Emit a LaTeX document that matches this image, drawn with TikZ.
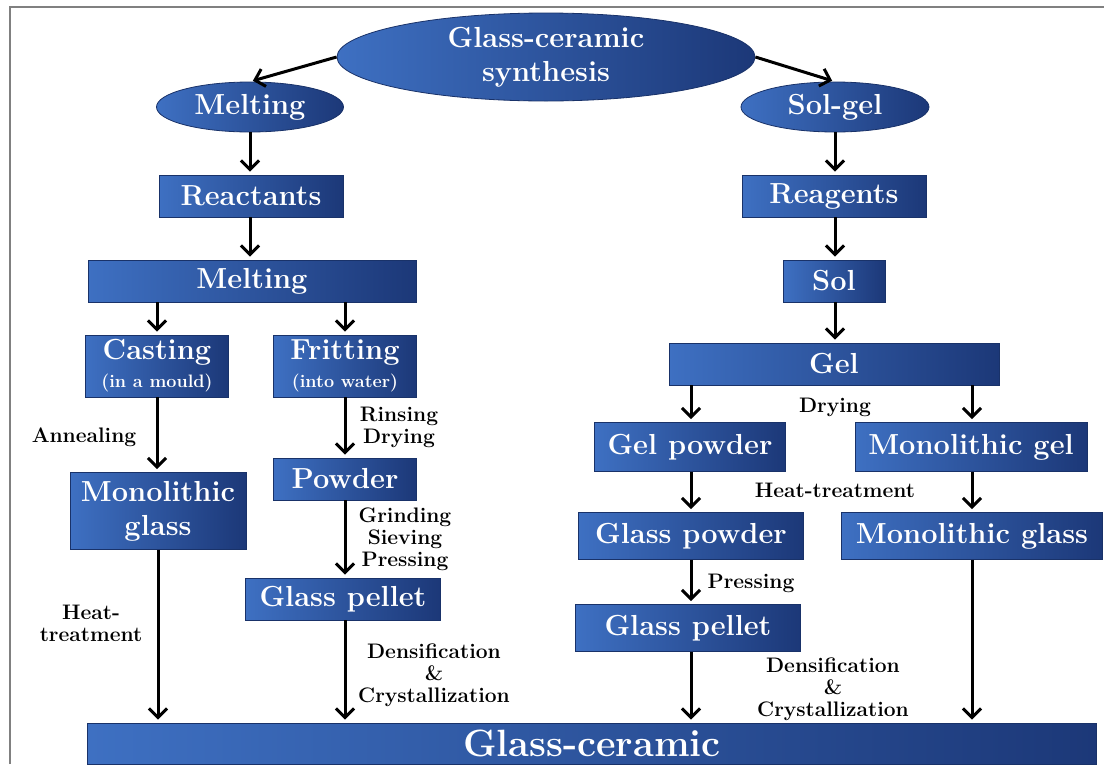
\documentclass[tikz,border=0pt]{standalone}
\usetikzlibrary{arrows.meta,shapes.geometric}

\definecolor{boxL}{RGB}{62,112,194}
\definecolor{boxM}{RGB}{46,88,170}
\definecolor{boxR}{RGB}{28,56,120}
\definecolor{boxE}{RGB}{25,50,105}
\definecolor{framegray}{RGB}{128,128,128}

\begin{document}
\begin{tikzpicture}[x=1pt, y=-1pt,
  blk/.style={draw=boxE, line width=0.8pt, left color=boxL, middle color=boxM, right color=boxR,
    text=white, font=\bfseries\fontsize{29}{34}\selectfont, inner sep=0pt, align=center},
  oval/.style={blk, ellipse},
  lbl/.style={font=\bfseries\fontsize{21}{22}\selectfont, align=center, inner sep=0pt},
  arr/.style={-{Straight Barb[length=9pt,width=18pt]}, line width=3pt, shorten >=3pt}]
\useasboundingbox (0,0) rectangle (1104,764);
\clip (0,0) rectangle (1104,764);
\fill[white] (0,0) rectangle (1104,764);
\draw[framegray, line width=2pt] (10,764) -- (10,7) -- (1104,7);

% top
\node[oval, minimum width=418, minimum height=88] (top) at (546,57) {Glass-ceramic\\synthesis};
\node[oval, minimum width=187, minimum height=50] (meltE) at (250,107) {Melting};
\node[oval, minimum width=188, minimum height=50] (solgel) at (835,107) {Sol-gel};

% melting route
\node[blk, minimum width=184, minimum height=42] (react) at (251,196) {Reactants};
\node[blk, minimum width=328, minimum height=42] (melt) at (252,281) {Melting};
\node[blk, minimum width=143, minimum height=62] (cast) at (157,366)
  {Casting\\[-6pt]{\fontsize{18}{20}\selectfont(in a mould)}};
\node[blk, minimum width=143, minimum height=62] (frit) at (345,366)
  {Fritting\\[-6pt]{\fontsize{18}{20}\selectfont(into water)}};
\node[blk, minimum width=176, minimum height=77] (monoL) at (158,511) {Monolithic\\glass};
\node[blk, minimum width=143, minimum height=42] (powder) at (345,479) {Powder};
\node[blk, minimum width=195, minimum height=42] (pelL) at (343,599) {Glass pellet};

% sol-gel route
\node[blk, minimum width=184, minimum height=42] (reag) at (834,196) {Reagents};
\node[blk, minimum width=102, minimum height=42] (sol) at (834,281) {Sol};
\node[blk, minimum width=330, minimum height=42] (gel) at (834,364) {Gel};
\node[blk, minimum width=191, minimum height=49] (gelpow) at (690,447) {Gel powder};
\node[blk, minimum width=232, minimum height=49] (monogel) at (971,447) {Monolithic gel};
\node[blk, minimum width=225, minimum height=47] (glpow) at (691,536) {Glass powder};
\node[blk, minimum width=261, minimum height=47] (monoR) at (972,536) {Monolithic glass};
\node[blk, minimum width=225, minimum height=47] (pelR) at (688,628) {Glass pellet};

% final
\node[blk, minimum width=1009, minimum height=41, font=\bfseries\fontsize{38}{42}\selectfont] (gc) at (592,743.5) {Glass-ceramic};

% labels
\node[lbl] (anneal) at (84,437) {Annealing};
\node[lbl] (rinse) at (399,427) {Rinsing\\Drying};
\node[lbl] (grind) at (405,539) {Grinding\\Sieving\\Pressing};
\node[lbl] (heatL) at (91,623) {Heat-\\treatment};
\node[lbl] (densL) at (434,675) {Densification\\\&\\Crystallization};
\node[lbl] (drying) at (835,407) {Drying};
\node[lbl] (heatR) at (835,490) {Heat-treatment};
\node[lbl] (press) at (751,583) {Pressing};
\node[lbl] (densR) at (833,689) {Densification\\\&\\Crystallization};

% arrows
\draw[arr] (top.west) -- (meltE.north);
\draw[arr] (top.east) -- (solgel.north);
\draw[arr] (meltE.south) -- (meltE.south |- react.north);
\draw[arr] (meltE.south |- react.south) -- (meltE.south |- melt.north);
\draw[arr] (melt.south -| cast.north) -- (cast.north);
\draw[arr] (melt.south -| frit.north) -- (frit.north);
\draw[arr] (cast.south) -- (cast.south |- monoL.north);
\draw[arr] (frit.south) -- (frit.south |- powder.north);
\draw[arr] (powder.south) -- (powder.south |- pelL.north);
\draw[arr] (monoL.south) -- (monoL.south |- gc.north);
\draw[arr] (pelL.south -| powder.south) -- (powder.south |- gc.north);

\draw[arr] (solgel.south) -- (solgel.south |- reag.north);
\draw[arr] (solgel.south |- reag.south) -- (solgel.south |- sol.north);
\draw[arr] (solgel.south |- sol.south) -- (solgel.south |- gel.north);
\draw[arr] (gel.south -| glpow.north) -- (glpow.north |- gelpow.north);
\draw[arr] (gel.south -| monoR.north) -- (monoR.north |- monogel.north);
\draw[arr] (glpow.north |- gelpow.south) -- (glpow.north);
\draw[arr] (monoR.north |- monogel.south) -- (monoR.north);
\draw[arr] (glpow.south) -- (glpow.south |- pelR.north);
\draw[arr] (glpow.south |- pelR.south) -- (glpow.south |- gc.north);
\draw[arr] (monoR.south) -- (monoR.south |- gc.north);
\end{tikzpicture}
\end{document}
